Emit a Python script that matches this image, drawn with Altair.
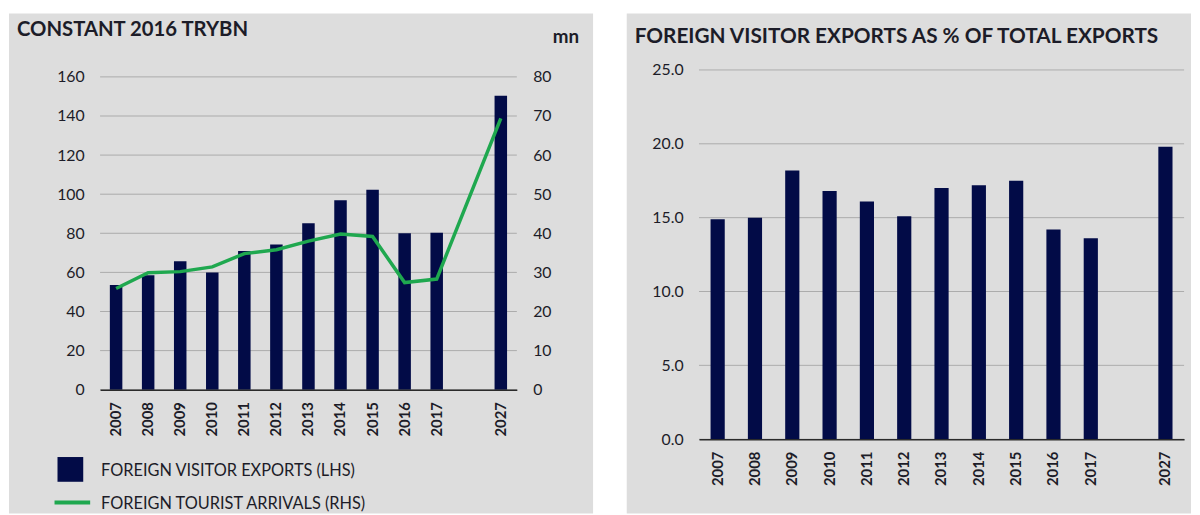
import altair as alt
import pandas as pd

# ---------------- data ----------------
years = ["2007", "2008", "2009", "2010", "2011", "2012", "2013", "2014", "2015", "2016", "2017", "2027"]
visitor_exports = [53.5, 58.5, 65.7, 60.0, 71.0, 74.3, 85.2, 96.9, 102.3, 80.0, 80.3, 150.4]
tourist_arrivals = [25.9, 29.9, 30.2, 31.4, 34.8, 35.8, 38.0, 39.8, 39.2, 27.4, 28.3, 69.4]
export_share = [14.9, 15.0, 18.2, 16.8, 16.1, 15.1, 17.0, 17.2, 17.5, 14.2, 13.6, 19.8]
x_domain = years[:11] + [" "] + years[11:]
left_ticks = [0, 20, 40, 60, 80, 100, 120, 140, 160]
right_ticks = [0, 10, 20, 30, 40, 50, 60, 70, 80]
share_ticks = [0, 5, 10, 15, 20, 25]

df = pd.DataFrame({"year": years, "exports": visitor_exports,
                   "arrivals": tourist_arrivals, "share": export_share})

NAVY = "#020b47"
GREEN = "#1fa84f"
BG = "#dddddd"
TEXT = "#1c1c28"
GRID = "#ababab"
FONT = "Lato"

label_expr = "datum.value == '2027' ? '2027\u2002' : datum.value"


def xenc(pi):
    return alt.X("year:N", sort=x_domain,
                 scale=alt.Scale(domain=x_domain, paddingInner=pi, paddingOuter=pi / 2),
                 axis=alt.Axis(title=None, labelAngle=-90, labelAlign="right", labelBaseline="middle",
                               labelPadding=12, ticks=False, tickSize=0, domainColor="#2a2a2a",
                               domainWidth=1.5, labelFont=FONT, labelFontSize=15, labelFontWeight="bold",
                               labelColor=TEXT, grid=False, labelExpr=label_expr, labelOverlap=False,
                               zindex=1))


def one():
    return pd.DataFrame({"k": [0]})


def txt(text, x, y, size, weight="normal", align="left"):
    return alt.Chart(pd.DataFrame({"t": [text]})).mark_text(
        align=align, baseline="middle", font=FONT, fontSize=size, fontWeight=weight, color=TEXT
    ).encode(x=alt.value(x), y=alt.value(y), text="t:N")


def bg(x, x2, y, y2):
    return alt.Chart(one()).mark_rect(color=BG).encode(
        x=alt.value(x), x2=alt.value(x2), y=alt.value(y), y2=alt.value(y2))


yaxis_common = dict(title=None, ticks=False, tickSize=0, domain=False, labelPadding=16,
                    labelFont=FONT, labelFontSize=16, labelColor=TEXT, grid=False, zindex=1)

# ---------------- left chart ----------------
# plot area top is shared with the right panel; the left scale tops out above 160
LW, LH = 421, 323
L_TOP = 160 * LH / 316
R_TOP = 80 * LH / 316
left_bg = bg(-92, 498, -57, 448)
left_grid = alt.Chart(pd.DataFrame({"v": left_ticks})).mark_rule(color=GRID, strokeWidth=1).encode(
    y=alt.Y("v:Q", scale=alt.Scale(domain=[0, L_TOP], nice=False), axis=None))
left_bars = alt.Chart(df).mark_bar(color=NAVY).encode(
    x=xenc(0.61),
    y=alt.Y("exports:Q", scale=alt.Scale(domain=[0, L_TOP], nice=False),
            axis=alt.Axis(orient="left", values=left_ticks, **yaxis_common)))
left_line = alt.Chart(df).mark_line(color=GREEN, strokeWidth=3.5).encode(
    x=xenc(0.61),
    y=alt.Y("arrivals:Q", scale=alt.Scale(domain=[0, R_TOP], nice=False),
            axis=alt.Axis(orient="right", values=right_ticks, **yaxis_common)))
left_title = txt("CONSTANT 2016 TRYBN", -84, -40, 20.5, "bold")
left_mn = txt("mn", 484, -33, 19, "bold", "right")
leg_sq = alt.Chart(one()).mark_rect(color=NAVY).encode(
    x=alt.value(-43), x2=alt.value(-17), y=alt.value(391), y2=alt.value(416))
leg_ln = alt.Chart(one()).mark_rule(color=GREEN, strokeWidth=4).encode(
    x=alt.value(-46), x2=alt.value(-10), y=alt.value(437))
leg_t1 = txt("FOREIGN VISITOR EXPORTS (LHS)", 1, 405, 16.5)
leg_t2 = txt("FOREIGN TOURIST ARRIVALS (RHS)", 1, 439, 16.5)

left = alt.layer(left_bg, left_grid, left_bars, left_line, left_title, left_mn,
                 leg_sq, leg_ln, leg_t1, leg_t2).resolve_scale(y="independent").properties(
    width=LW, height=LH)

# ---------------- right chart ----------------
RW, RH = 490, 373
right_bg = bg(-73, 497, -57, 448)
right_grid = alt.Chart(pd.DataFrame({"v": share_ticks})).mark_rule(color=GRID, strokeWidth=1).encode(
    y=alt.Y("v:Q", scale=alt.Scale(domain=[0, 25], nice=False), axis=None))
right_bars = alt.Chart(df).mark_bar(color=NAVY).encode(
    x=xenc(0.62),
    y=alt.Y("share:Q", scale=alt.Scale(domain=[0, 25], nice=False),
            axis=alt.Axis(orient="left", values=share_ticks, format=".1f", **yaxis_common)))
right_title = txt("FOREIGN VISITOR EXPORTS AS % OF TOTAL EXPORTS", -65, -33, 21, "bold")

right = alt.layer(right_bg, right_grid, right_bars, right_title).resolve_scale(
    y="independent").properties(width=RW, height=RH)

chart = alt.hconcat(left, right, spacing=32).properties(
    padding={"left": 0, "top": 2, "right": 0, "bottom": 0}
).configure_view(stroke=None).configure(background="white")

chart.save("out.html", embed_options={"renderer": "svg", "actions": False})
